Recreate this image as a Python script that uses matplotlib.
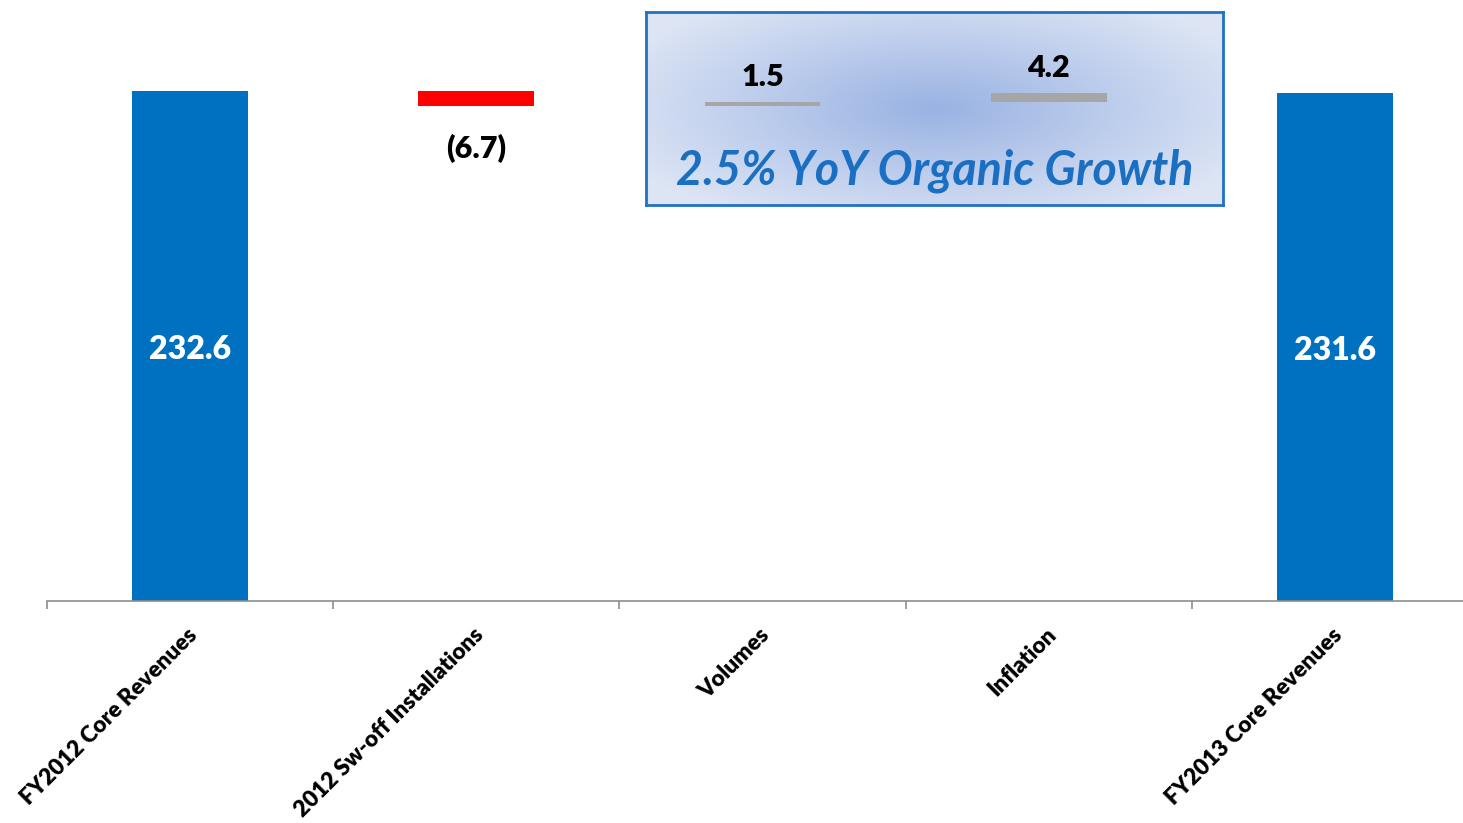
import numpy as np
import matplotlib.pyplot as plt

categories = ["FY2012 Core Revenues", "2012 Sw-off Installations", "Volumes",
              "Inflation", "FY2013 Core Revenues"]
values = [232.6, -6.7, 1.5, 4.2, 231.6]
labels = ["232.6", "(6.7)", "1.5", "4.2", "231.6"]
growth_text = "2.5% YoY Organic Growth"

BLUE = "#0070C0"
RED = "#FF0000"
GREY = "#A6A6A6"

plt.rcParams['font.family'] = ['Lato', 'DejaVu Sans']

fig = plt.figure(figsize=(14.63, 8.23), dpi=100)

# highlight box with radial gradient, sits behind the bar axes
box = fig.add_axes([646 / 1463, 1 - 205 / 823, 577 / 1463, 193 / 823], zorder=0)
gx, gy = np.meshgrid(np.linspace(-1, 1, 400), np.linspace(-1, 1, 140))
r = np.clip(np.sqrt(gx ** 2 + (gy * 0.9) ** 2) / 1.2, 0, 1)
c_in = np.array([0.60, 0.70, 0.89])
c_out = np.array([0.87, 0.90, 0.96])
grad = c_in[None, None, :] * (1 - r[..., None]) + c_out[None, None, :] * r[..., None]
box.imshow(grad, aspect='auto', extent=[0, 1, 0, 1])
box.set_xlim(0, 1)
box.set_ylim(0, 1)
box.set_xticks([])
box.set_yticks([])
for s in box.spines.values():
    s.set_color("#1F72C4")
    s.set_linewidth(2)
box.text(0.5, 0.18, growth_text, ha='center', va='center', color="#1A6FC2",
         fontsize=33.5, fontweight='bold', fontstyle='italic')

ax = fig.add_axes([47 / 1463, 1 - 601 / 823, 5 * 286.2 / 1463, 601 / 823], zorder=1)
ax.patch.set_alpha(0)

x = np.arange(len(categories))
bottoms = []
heights = []
colors = []
running = 0.0
for i, v in enumerate(values):
    if i == 0 or i == len(values) - 1:
        bottoms.append(0)
        heights.append(v)
        colors.append(BLUE)
        running = v
    else:
        if v < 0:
            bottoms.append(running + v)
            heights.append(-v)
            colors.append(RED)
        else:
            bottoms.append(running)
            heights.append(v)
            colors.append(GREY)
        running += v

ax.bar(x, heights, bottom=bottoms, width=0.405, color=colors, zorder=2)

for i in range(len(values)):
    top = bottoms[i] + heights[i]
    if i == 0 or i == len(values) - 1:
        ax.text(x[i], heights[i] / 2 - 1.5, labels[i], ha='center', va='center',
                color='white', fontsize=23, fontweight='heavy')
    elif values[i] < 0:
        ax.text(x[i], bottoms[i] - 13, labels[i], ha='center', va='top',
                color='black', fontsize=22, fontweight='heavy')
    else:
        ax.text(x[i], top + 5, labels[i], ha='center', va='bottom',
                color='black', fontsize=22, fontweight='heavy')

ax.set_xlim(-0.5, len(categories) - 0.5)
ax.set_ylim(0, 274.1)
ax.set_yticks([])
for side in ['top', 'right', 'left']:
    ax.spines[side].set_visible(False)
ax.spines['bottom'].set_color("#8C8C8C")
ax.spines['bottom'].set_linewidth(1.2)

ax.set_xticks(np.arange(len(categories) + 1) - 0.5, minor=False)
ax.set_xticklabels([])
ax.tick_params(axis='x', length=6, color="#8C8C8C", width=1.2)
for i, c in enumerate(categories):
    ax.annotate(c, xy=(x[i], 0), xycoords='data', xytext=(3, -22),
                textcoords='offset points', rotation=45, rotation_mode='anchor',
                ha='right', va='center', fontsize=16.3, fontweight='heavy')

fig.savefig("out.png", dpi=100)
